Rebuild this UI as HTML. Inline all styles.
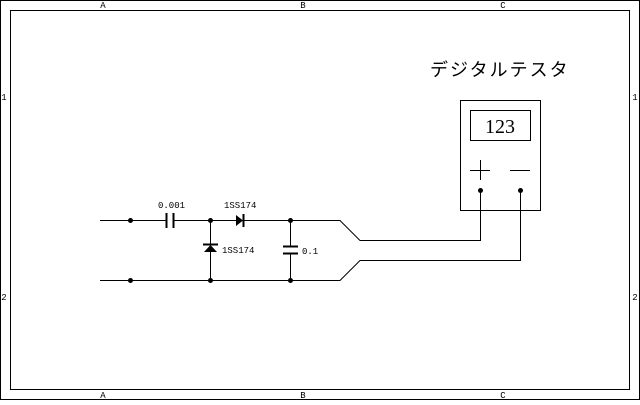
<!DOCTYPE html><html><head><style>body{margin:0;background:#fff}</style></head><body>
<svg width="640" height="400" xmlns="http://www.w3.org/2000/svg" font-family="Liberation Mono, monospace">
<rect x="0.5" y="0.5" width="639" height="399" fill="#fff" stroke="#000"/>
<rect x="10.5" y="10.5" width="619" height="379" fill="none" stroke="#000"/>
<g font-size="9" text-anchor="middle">
<text x="103" y="8">A</text><text x="303" y="8">B</text><text x="503" y="8">C</text>
<text x="103" y="398">A</text><text x="303" y="398">B</text><text x="503" y="398">C</text>
<text x="4" y="100">1</text><text x="4" y="300">2</text>
<text x="635" y="100">1</text><text x="635" y="300">2</text>
</g>
<g stroke="#000" fill="none">
<path d="M100 220.5H166M174 220.5H340L360 240.5H480.5V190"/>
<path d="M100 280.5H340L360 260.5H520.5V190"/>
<path d="M166.5 213V228M173.5 213V228" stroke-width="2"/>
<path d="M210.5 220V280M290.5 220V246M290.5 254V280"/>
<path d="M283 246.5H298M283 253.5H298" stroke-width="2"/>
<path d="M203 244.5H218" stroke-width="2"/>
<path d="M243.5 214V227" stroke-width="2"/>
<rect x="460.5" y="100.5" width="80" height="110"/>
<rect x="470.5" y="110.5" width="60" height="30"/>
<path d="M470 170.5H490M480.5 160V180M510 170.5H530"/>
</g>
<polygon points="236,215 236,226 243,220.5" fill="#000"/>
<polygon points="204,252 217,252 210.5,245" fill="#000"/>
<g fill="#000">
<circle cx="130.5" cy="220.5" r="2.5"/><circle cx="210.5" cy="220.5" r="2.5"/><circle cx="290.5" cy="220.5" r="2.5"/>
<circle cx="130.5" cy="280.5" r="2.5"/><circle cx="210.5" cy="280.5" r="2.5"/><circle cx="290.5" cy="280.5" r="2.5"/>
<circle cx="480.5" cy="190.5" r="2.5"/><circle cx="520.5" cy="190.5" r="2.5"/>
</g>
<g font-size="9">
<text x="158" y="208">0.001</text><text x="224" y="208">1SS174</text>
<text x="222" y="253">1SS174</text><text x="302" y="254">0.1</text>
</g>
<text x="500" y="133" font-family="Liberation Serif, serif" font-size="20" text-anchor="middle">123</text>
<text x="430" y="76" font-family="Liberation Sans, Noto Sans CJK JP, sans-serif" font-size="18" letter-spacing="2">デジタルテスタ</text>
</svg>
</body></html>
